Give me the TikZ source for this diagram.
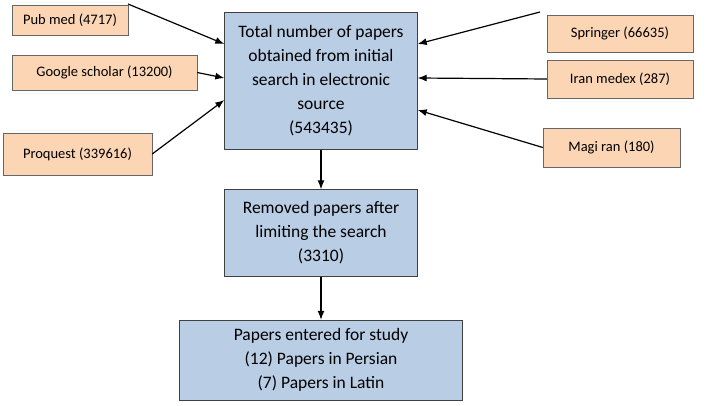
\documentclass[tikz,border=0pt]{standalone}
\usepackage{fontspec}
\setmainfont{Carlito}
\usetikzlibrary{positioning,arrows.meta}
\definecolor{boxblue}{HTML}{B9CDE5}
\definecolor{boxpeach}{HTML}{FCD5B5}
\tikzset{
  stage/.style={draw=black!75, fill=boxblue, align=center, inner sep=2pt,
    font=\fontsize{17.5}{24}\selectfont},
  source/.style={draw=black!60, fill=boxpeach, align=center, inner sep=2pt,
    font=\fontsize{14.5}{17}\selectfont},
  link/.style={-{Latex[length=9pt,width=7pt]}, line width=1.2pt}
}
\begin{document}
\begin{tikzpicture}[x=1pt,y=-1pt]
\useasboundingbox (0,0) rectangle (709,406);
\node[stage, minimum width=193, minimum height=137] (total) at (321,81)
  {Total number of papers\\obtained from initial\\search in electronic\\source\\(543435)};
\node[stage, minimum width=193, minimum height=87] (removed) at (321,233)
  {Removed papers after\\limiting the search\\(3310)};
\node[stage, minimum width=283, minimum height=80] (entered) at (321,360)
  {Papers entered for study\\(12) Papers in Persian\\(7) Papers in Latin};

\node[source, minimum width=116, minimum height=30] (pubmed) at (70,20) {Pub med (4717)};
\node[source, minimum width=185, minimum height=35] (google) at (104.5,72.5) {Google scholar (13200)};
\node[source, minimum width=149, minimum height=42] (proquest) at (77.5,154) {Proquest (339616)};
\node[source, minimum width=146, minimum height=37] (springer) at (620,33.5) {Springer (66635)};
\node[source, minimum width=146, minimum height=38] (iran) at (620,79) {Iran medex (287)};
\node[source, minimum width=137, minimum height=39] (magiran) at (611.5,147.5) {Magi ran (180)};

\coordinate (pubtail) at (128,4);
\coordinate (springtail) at (540,12);

\draw[link] (pubtail) -- (total.west |- 0,44);
\draw[link] (google.east) -- (total.west |- 0,78);
\draw[link] (proquest.east) -- (total.west |- 0,100);
\draw[link] (springtail) -- (total.east |- 0,44);
\draw[link] (iran.west) -- (total.east |- 0,78);
\draw[link] (magiran.west) -- (total.east |- 0,110);

\draw[link] (total) -- (removed);
\draw[link] (removed) -- (entered);
\end{tikzpicture}
\end{document}
